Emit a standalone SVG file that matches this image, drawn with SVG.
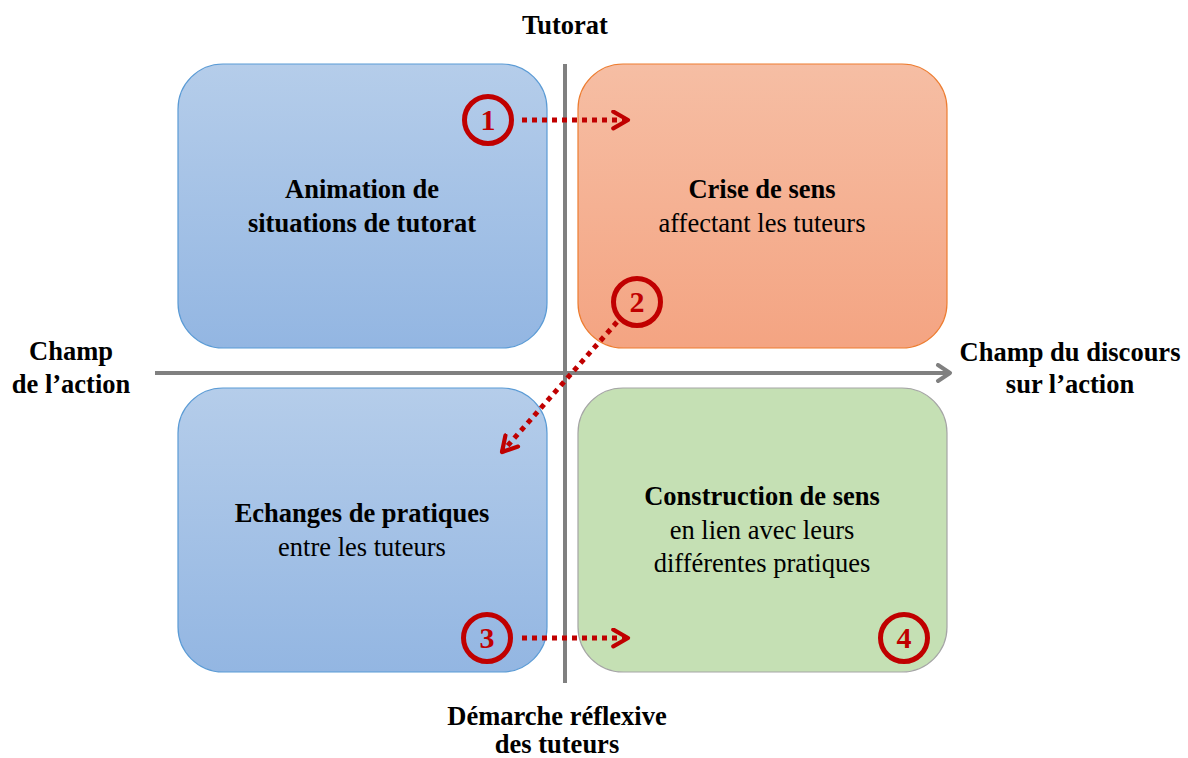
<svg xmlns="http://www.w3.org/2000/svg" width="1188" height="758" viewBox="0 0 1188 758">
<defs>
<linearGradient id="gBlue" x1="0" y1="0" x2="0" y2="1"><stop offset="0" stop-color="#b5cdea"/><stop offset="1" stop-color="#93b6e2"/></linearGradient>
<linearGradient id="gOrange" x1="0" y1="0" x2="0" y2="1"><stop offset="0" stop-color="#f6bea4"/><stop offset="1" stop-color="#f4a482"/></linearGradient>
<marker id="chev" viewBox="0 0 10 10" refX="8" refY="5" markerWidth="4.2" markerHeight="4.2" orient="auto" markerUnits="strokeWidth">
<path d="M1,1 L8,5 L1,9" fill="none" stroke="#c00000" stroke-width="2" stroke-linecap="round" stroke-linejoin="round"/>
</marker>
<marker id="gchev" viewBox="0 0 10 10" refX="8" refY="5" markerWidth="5" markerHeight="5" orient="auto" markerUnits="strokeWidth">
<path d="M2,1 L8,5 L2,9" fill="none" stroke="#808080" stroke-width="2" stroke-linecap="round" stroke-linejoin="round"/>
</marker>
</defs>
<style>
.t{font-family:"Liberation Serif","Times New Roman",serif;font-size:26.5px;fill:#000;text-anchor:middle}
.b{font-weight:bold}
.axis{stroke:#808080;stroke-width:4;fill:none}
.dot{stroke:#c00000;stroke-width:5;stroke-dasharray:5 5;fill:none}
.circ{fill:none;stroke:#c00000;stroke-width:5}
.num{font-family:"Liberation Serif","Times New Roman",serif;font-size:30px;font-weight:bold;fill:#c00000;text-anchor:middle}
</style>
<g id="box-tl"><rect x="178" y="64" width="369" height="284" rx="45" fill="url(#gBlue)" stroke="#5b9bd5" stroke-width="1.2"/>
<text class="t b" x="362" y="198">Animation de</text><text class="t b" x="362" y="232">situations de tutorat</text></g>
<g id="box-tr"><rect x="578" y="64" width="369" height="284" rx="45" fill="url(#gOrange)" stroke="#ed7d31" stroke-width="1.2"/>
<text class="t b" x="762" y="198">Crise de sens</text><text class="t" x="762" y="232">affectant les tuteurs</text></g>
<g id="box-bl"><rect x="178" y="388" width="369" height="284" rx="45" fill="url(#gBlue)" stroke="#5b9bd5" stroke-width="1.2"/>
<text class="t b" x="362" y="522">Echanges de pratiques</text><text class="t" x="362" y="556">entre les tuteurs</text></g>
<g id="box-br"><rect x="578" y="388" width="369" height="284" rx="45" fill="#c5e0b4" stroke="#a5a5a5" stroke-width="1.2"/>
<text class="t b" x="762" y="505">Construction de sens</text><text class="t" x="762" y="539">en lien avec leurs</text><text class="t" x="762" y="572">différentes pratiques</text></g>
<g id="connectors">
<line class="axis" x1="565" y1="64" x2="565" y2="683"/>
<line class="axis" x1="155" y1="373" x2="950" y2="373" marker-end="url(#gchev)"/>
<line class="dot" x1="522" y1="120" x2="628" y2="120" marker-end="url(#chev)"/>
<line class="dot" x1="617" y1="322" x2="502" y2="452" marker-end="url(#chev)"/>
<line class="dot" x1="522" y1="638" x2="628" y2="638" marker-end="url(#chev)"/>
</g>
<g id="n1"><circle class="circ" cx="488" cy="120" r="23.5"/><text class="num" x="488" y="130">1</text></g>
<g id="n2"><circle class="circ" cx="637" cy="302" r="23.5"/><text class="num" x="637" y="312">2</text></g>
<g id="n3"><circle class="circ" cx="487" cy="638" r="23.5"/><text class="num" x="487" y="648">3</text></g>
<g id="n4"><circle class="circ" cx="904" cy="638" r="23.5"/><text class="num" x="904" y="648">4</text></g>
<g id="labels">
<text class="t b" x="565" y="34">Tutorat</text>
<text class="t b" x="71" y="360">Champ</text><text class="t b" x="71" y="393">de l’action</text>
<text class="t b" x="1070" y="361">Champ du discours</text><text class="t b" x="1070" y="393">sur l’action</text>
<text class="t b" x="557" y="725">Démarche réflexive</text><text class="t b" x="557" y="753">des tuteurs</text>
</g>
</svg>
